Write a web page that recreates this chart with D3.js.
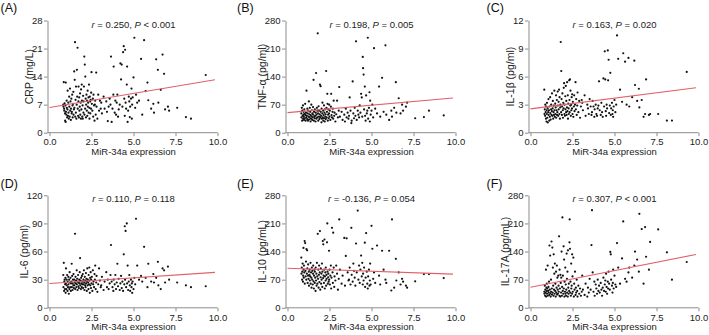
<!DOCTYPE html>
<html>
<head>
<meta charset="utf-8">
<script src="https://cdn.jsdelivr.net/npm/d3@7"></script>
<style>
  body { margin: 0; background: #fff; }
  svg { display: block; font-family: "Liberation Sans", Arial, sans-serif; }
</style>
</head>
<body>
<svg id="chart" width="709" height="335"></svg>
<script>
// MiR-34a expression (shared x for all six panels)
const mir34a = [
  0.82, 0.83, 0.85, 0.87, 0.88, 0.90, 0.92, 0.93, 0.95, 0.96,
  0.97, 0.98, 1.00, 1.02, 1.03, 1.05, 1.07, 1.08, 1.10, 1.12,
  1.13, 1.15, 1.17, 1.18, 1.20, 1.22, 1.23, 1.25, 1.27, 1.28,
  1.30, 1.32, 1.33, 1.35, 1.37, 1.38, 1.40, 1.42, 1.43, 1.45,
  1.47, 1.48, 1.50, 1.52, 1.53, 1.55, 1.57, 1.58, 1.60, 1.62,
  1.63, 1.65, 1.67, 1.68, 1.70, 1.72, 1.73, 1.75, 1.77, 1.78,
  1.80, 1.82, 1.83, 1.85, 1.87, 1.88, 1.90, 1.92, 1.93, 1.95,
  1.97, 1.98, 2.00, 2.02, 2.03, 2.05, 2.07, 2.08, 2.10, 2.12,
  2.13, 2.15, 2.17, 2.18, 2.20, 2.22, 2.23, 2.25, 2.27, 2.28,
  2.30, 2.32, 2.33, 2.35, 2.37, 2.38, 2.40, 2.42, 2.43, 2.45,
  2.47, 2.48, 2.50, 2.52, 2.55, 2.58, 2.60, 2.62, 2.65, 2.68,
  2.70, 2.72, 2.75, 2.78, 2.80, 2.85, 2.90, 2.95, 3.00, 3.05,
  3.08, 3.12, 3.22, 3.28, 3.38, 3.42, 3.47, 3.52, 3.58, 3.63,
  3.66, 3.70, 3.75, 3.80, 3.82, 3.88, 3.92, 3.96, 4.00, 4.04,
  4.08, 4.12, 4.18, 4.22, 4.26, 4.30, 4.34, 4.38, 4.42, 4.45,
  4.48, 4.50, 4.53, 4.56, 4.60, 4.62, 4.65, 4.68, 4.72, 4.75,
  4.78, 4.80, 4.85, 4.88, 4.90, 4.92, 4.95, 5.00, 5.05, 5.10,
  5.15, 5.22, 5.33, 5.45, 5.52, 5.63, 5.72, 5.83, 5.88, 6.05,
  6.18, 6.22, 6.35, 6.45, 6.48, 6.62, 6.73, 6.82, 6.88, 7.05,
  7.12, 7.60, 8.12, 8.42, 9.30
];

const crp = [
  7.0, 6.5, 12.6, 6.0, 5.5, 7.3, 4.8, 3.0, 6.8, 2.7,
  12.5, 5.2, 4.5, 8.0, 6.2, 3.8, 5.8, 10.5, 4.2, 7.5,
  5.0, 3.5, 9.0, 6.5, 4.0, 11.0, 5.5, 7.8, 3.2, 6.0,
  8.5, 4.8, 5.2, 9.5, 6.8, 3.8, 7.2, 10.2, 4.5, 5.8,
  15.3, 6.2, 13.2, 22.6, 4.0, 8.2, 5.0, 11.5, 3.5, 7.0,
  15.7, 9.0, 21.2, 6.0, 4.2, 7.8, 11.5, 3.8, 8.8, 5.5,
  6.5, 9.8, 4.5, 7.5, 3.5, 10.8, 5.8, 12.0, 8.0, 4.0,
  6.8, 3.5, 9.2, 5.0, 7.8, 11.5, 19.0, 4.5, 17.0, 6.0,
  14.0, 8.5, 3.8, 7.0, 9.5, 5.5, 8.0, 4.2, 10.5, 6.5,
  7.5, 8.8, 5.0, 12.0, 6.2, 3.5, 9.0, 7.8, 4.8, 8.2,
  6.0, 10.0, 15.1, 7.2, 5.5, 8.5, 4.0, 9.5, 6.8, 3.0,
  7.0, 8.0, 4.5, 15.0, 6.5, 3.5, 9.5, 5.5, 8.0, 6.0,
  7.5, 4.8, 9.0, 6.0, 7.8, 5.2, 2.9, 6.5, 8.5, 7.0,
  19.0, 2.7, 6.0, 9.5, 16.5, 5.0, 8.0, 4.5, 7.5, 9.5,
  4.0, 5.8, 7.0, 17.3, 13.3, 17.0, 6.5, 20.1, 21.6, 8.5,
  4.2, 20.7, 7.5, 6.0, 12.0, 16.5, 2.7, 5.5, 9.0, 7.8,
  3.9, 6.5, 8.5, 11.0, 3.5, 7.0, 8.8, 13.8, 23.7, 6.2,
  9.5, 7.5, 8.0, 18.4, 4.5, 23.1, 10.4, 12.5, 8.1, 6.0,
  7.2, 5.0, 18.3, 15.7, 7.5, 10.7, 19.5, 14.7, 5.8, 6.5,
  5.5, 6.2, 3.9, 3.5, 14.4
];

const tnfa = [
  48, 38, 62, 30, 55, 42, 68, 35, 45, 52,
  40, 32, 58, 47, 36, 72, 44, 30, 50, 38,
  105, 42, 34, 60, 48, 30, 55, 40, 78, 33,
  46, 38, 62, 52, 28, 44, 35, 70, 41, 56,
  32, 48, 38, 64, 45, 132, 30, 52, 40, 36,
  58, 42, 28, 50, 149, 35, 45, 62, 38, 55,
  248, 48, 30, 66, 40, 55, 34, 46, 120, 38,
  116, 52, 42, 26, 60, 35, 48, 75, 38, 55,
  30, 44, 68, 36, 50, 28, 58, 40, 46, 34,
  154, 62, 38, 52, 97, 72, 30, 45, 58, 36,
  48, 70, 40, 55, 32, 65, 97, 44, 38, 52,
  60, 35, 80, 42, 50, 28, 46, 80, 38, 55,
  114, 40, 52, 32, 45, 28, 60, 38, 50, 35,
  42, 88, 55, 24, 30, 128, 48, 36, 62, 42,
  228, 32, 55, 45, 38, 68, 50, 97, 88, 40,
  189, 161, 145, 58, 115, 42, 30, 93, 48, 55,
  237, 35, 62, 101, 28, 80, 45, 55, 70, 38,
  211, 60, 48, 115, 40, 137, 52, 218, 45, 32,
  55, 40, 62, 126, 50, 86, 48, 70, 55, 65,
  75, 36, 39, 55, 43
];

const il1b = [
  4.6, 2.0, 2.5, 1.8, 3.0, 2.2, 1.5, 2.8, 1.2, 2.4,
  2.0, 3.2, 1.6, 2.6, 1.1, 2.2, 3.6, 1.9, 2.4, 1.3,
  2.8, 1.7, 3.8, 2.1, 1.4, 2.5, 3.0, 1.9, 2.3, 4.2,
  1.8, 2.6, 3.4, 1.5, 2.2, 2.9, 1.9, 4.5, 2.4, 1.7,
  3.1, 2.0, 2.7, 4.0, 1.6, 2.4, 3.5, 1.9, 2.2, 4.4,
  2.9, 1.8, 3.3, 2.5, 4.6, 2.0, 3.8, 1.5, 2.7, 3.0,
  9.7, 2.2, 6.6, 3.6, 1.9, 2.8, 4.2, 2.4, 1.6, 3.2,
  2.6, 4.8, 5.3, 2.0, 3.0, 1.8, 3.9, 2.5, 5.0, 2.2,
  3.4, 1.9, 2.7, 5.4, 2.3, 4.0, 1.5, 3.1, 2.6, 2.0,
  5.6, 3.5, 2.2, 5.7, 2.9, 4.5, 1.8, 3.0, 2.4, 3.8,
  2.6, 4.1, 2.0, 3.3, 1.7, 2.8, 4.0, 2.3, 3.0, 5.4,
  2.5, 3.6, 1.9, 2.9, 4.3, 2.2, 3.4, 1.6, 2.8, 3.5,
  3.2, 2.4, 4.0, 1.8, 3.0, 2.6, 2.0, 3.6, 2.8, 1.9,
  2.2, 3.4, 2.8, 1.7, 2.5, 3.0, 2.0, 1.8, 2.6, 2.9,
  5.5, 2.4, 1.9, 3.2, 2.2, 1.7, 5.8, 2.8, 8.7, 5.7,
  2.3, 1.8, 3.0, 2.6, 8.8, 5.6, 7.8, 2.1, 2.9, 6.4,
  1.9, 2.6, 3.2, 2.0, 2.4, 1.7, 2.8, 3.5, 2.2, 3.0,
  10.4, 7.9, 4.6, 3.3, 8.5, 7.6, 3.0, 8.0, 2.8, 3.8,
  7.7, 5.1, 3.4, 4.7, 2.7, 3.5, 1.7, 2.0, 5.7, 1.9,
  2.0, 2.0, 1.3, 1.3, 6.5
];

const il6 = [
  35, 22, 48, 18, 28, 30, 20, 25, 32, 16,
  26, 42, 20, 30, 24, 35, 18, 28, 22, 33,
  25, 15, 30, 20, 38, 27, 22, 32, 18, 26,
  28, 47, 22, 34, 19, 26, 30, 24, 36, 21,
  30, 24, 27, 79, 20, 33, 26, 29, 22, 40,
  25, 31, 19, 28, 35, 23, 27, 21, 30, 26,
  38, 53, 24, 29, 20, 32, 26, 22, 34, 25,
  28, 36, 21, 30, 25, 40, 27, 19, 33, 24,
  29, 22, 37, 26, 31, 18, 28, 42, 24, 30,
  27, 20, 35, 25, 43, 29, 16, 32, 24, 38,
  21, 30, 26, 33, 18, 40, 25, 28, 22, 36,
  30, 45, 20, 27, 34, 17, 25, 42, 29, 22,
  24, 33, 19, 28, 38, 22, 30, 20, 26, 35,
  67, 28, 22, 18, 30, 25, 35, 20, 27, 47,
  23, 31, 19, 26, 34, 21, 28, 18, 57, 25,
  87, 30, 82, 22, 90, 26, 45, 19, 28, 35,
  24, 18, 30, 22, 26, 16, 28, 20, 32, 25,
  95, 45, 30, 34, 28, 65, 32, 22, 47, 28,
  36, 27, 32, 49, 24, 20, 42, 40, 27, 44,
  30, 27, 24, 22, 23
];

const il10 = [
  125, 85, 100, 70, 90, 110, 65, 80, 149, 95,
  75, 105, 88, 166, 60, 161, 92, 78, 115, 70,
  146, 85, 143, 98, 62, 80, 108, 72, 90, 55,
  82, 95, 68, 78, 112, 60, 88, 75, 50, 100,
  70, 92, 58, 85, 105, 66, 48, 80, 95, 62,
  90, 75, 42, 100, 68, 85, 55, 112, 78, 60,
  184, 72, 95, 50, 82, 105, 64, 88, 191, 45,
  76, 98, 60, 85, 70, 110, 52, 90, 166, 74,
  158, 80, 62, 95, 170, 48, 78, 88, 68, 100,
  55, 82, 72, 163, 210, 90, 60, 76, 85, 65,
  142, 70, 95, 58, 80, 105, 48, 75, 199, 88,
  62, 187, 100, 52, 78, 68, 105, 85, 45, 72,
  220, 95, 60, 80, 174, 55, 129, 173, 88, 68,
  70, 100, 58, 199, 82, 65, 110, 92, 75, 55,
  160, 88, 242, 70, 105, 62, 95, 130, 78, 112,
  58, 85, 68, 100, 162, 52, 75, 186, 90, 60,
  48, 78, 95, 55, 68, 110, 58, 204, 147, 72,
  88, 62, 155, 80, 58, 142, 95, 70, 62, 142,
  43, 220, 50, 122, 68, 88, 58, 72, 65, 55,
  50, 66, 84, 84, 74
];

const il17a = [
  40, 35, 55, 30, 45, 38, 95, 28, 50, 42,
  60, 35, 48, 105, 30, 42, 52, 38, 65, 32,
  155, 45, 130, 36, 28, 70, 40, 165, 48, 33,
  150, 38, 100, 55, 30, 133, 45, 85, 35, 110,
  42, 60, 28, 90, 38, 50, 105, 33, 75, 45,
  35, 80, 55, 40, 178, 30, 95, 48, 28, 82,
  62, 38, 75, 140, 30, 52, 225, 42, 80, 35,
  153, 48, 120, 28, 65, 40, 100, 35, 58, 30,
  45, 135, 72, 38, 90, 28, 143, 50, 35, 60,
  42, 163, 220, 147, 38, 65, 30, 110, 48, 55,
  35, 133, 78, 40, 125, 28, 60, 45, 90, 32,
  50, 38, 70, 42, 28, 55, 35, 48, 30, 40,
  80, 45, 32, 60, 28, 50, 38, 72, 45, 156,
  243, 88, 40, 65, 30, 58, 48, 35, 70, 42,
  55, 38, 62, 45, 30, 50, 75, 42, 58, 68,
  40, 85, 52, 35, 65, 48, 90, 60, 45, 139,
  133, 70, 55, 38, 62, 95, 48, 80, 58, 52,
  161, 100, 60, 123, 215, 72, 65, 88, 100, 75,
  105, 140, 120, 90, 234, 196, 60, 201, 127, 95,
  164, 195, 138, 70, 114
];

// panel labels, axis titles, tick values, stats and fitted lines
const panelLetters = ["(A)", "(B)", "(C)", "(D)", "(E)", "(F)"];
const yTitles = ["CRP (mg/L)", "TNF-\u03b1 (pg/ml)", "IL-1\u03b2 (pg/ml)",
                 "IL-6 (pg/ml)", "IL-10 (pg/mL)", "IL-17A (pg/mL)"];
const yTickSets = [
  [0, 7, 14, 21, 28],
  [0, 70, 140, 210, 280],
  [0, 3, 6, 9, 12],
  [0, 30, 60, 90, 120],
  [0, 70, 140, 210, 280],
  [0, 70, 140, 210, 280]
];
const xTicks = [0, 2.5, 5, 7.5, 10];
const rValues = ["0.250", "0.198", "0.163", "0.110", "-0.136", "0.307"];
const pValues = ["< 0.001", "= 0.005", "= 0.020", "= 0.118", "= 0.054", "< 0.001"];
const fitIntercepts = [6.3, 50, 2.55, 26, 98.5, 51];
const fitSlopes = [0.70, 3.7, 0.23, 1.2, -1.5, 8.3];
const seriesY = [crp, tnfa, il1b, il6, il10, il17a];

// layout
const colAxisX = [47.5, 285.5, 528.5];
const colLabelX = [0.5, 237, 486.5];
const rowTop = [20.5, 195.3];
const rowBottom = [132.7, 307.8];
const rowLabelY = [11.5, 188];
const plotW = 168;
const axisColor = "#8c8c8c";
const textColor = "#222";

const svg = d3.select("#chart");

panelLetters.forEach((letter, i) => {
  const col = i % 3, row = Math.floor(i / 3);
  const ax = colAxisX[col];
  const ticks = yTickSets[i];

  const x = d3.scaleLinear().domain([0, 10]).range([ax + 2, ax + 2 + plotW]);
  const y = d3.scaleLinear().domain([0, ticks[ticks.length - 1]]).range([rowBottom[row], rowTop[row]]);

  const g = svg.append("g");

  // panel letter
  g.append("text")
    .attr("x", colLabelX[col])
    .attr("y", rowLabelY[row])
    .attr("font-size", 12.5)
    .attr("fill", "#111")
    .text(letter);

  // x axis
  const xAxis = g.append("g")
    .attr("transform", `translate(0, ${rowBottom[row]})`)
    .call(d3.axisBottom(x).tickValues(xTicks).tickFormat(d3.format(".1f"))
      .tickSize(3.5).tickPadding(2.5));
  xAxis.select(".domain").remove();
  xAxis.append("line")
    .attr("x1", ax).attr("x2", x(10))
    .attr("stroke", axisColor);

  // y axis
  const yAxis = g.append("g")
    .attr("transform", `translate(${ax}, 0)`)
    .call(d3.axisLeft(y).tickValues(ticks).tickSize(3.5).tickSizeOuter(0).tickPadding(1.5));

  [xAxis, yAxis].forEach(a => {
    a.selectAll(".domain, line").attr("stroke", axisColor);
    a.selectAll("text")
      .attr("font-size", 9.5)
      .attr("font-family", "Liberation Sans, Arial, sans-serif")
      .attr("fill", textColor);
  });

  // axis titles
  g.append("text")
    .attr("x", (x(0) + x(10)) / 2)
    .attr("y", rowBottom[row] + 22.5)
    .attr("text-anchor", "middle")
    .attr("font-size", 9.5)
    .attr("fill", textColor)
    .text("MiR-34a expression");

  const labelW = d3.max(yAxis.selectAll("text").nodes(), n => n.getBBox().width);
  const yMid = (rowTop[row] + rowBottom[row]) / 2;
  g.append("text")
    .attr("transform", `translate(${ax - labelW - 4}, ${yMid}) rotate(-90)`)
    .attr("text-anchor", "middle")
    .attr("font-size", 10.5)
    .attr("fill", textColor)
    .text(yTitles[i]);

  // r / P annotation
  const ann = g.append("text")
    .attr("x", (x(0) + x(10)) / 2)
    .attr("y", rowTop[row] + 7)
    .attr("text-anchor", "middle")
    .attr("font-size", 9.5)
    .attr("fill", textColor);
  ann.append("tspan").attr("font-style", "italic").text("r");
  ann.append("tspan").text(` = ${rValues[i]}, `);
  ann.append("tspan").attr("font-style", "italic").text("P");
  ann.append("tspan").text(` ${pValues[i]}`);

  // scatter points
  const pts = d3.zip(mir34a, seriesY[i]);
  g.append("g").selectAll("circle")
    .data(pts)
    .enter()
    .append("circle")
    .attr("cx", d => x(d[0]))
    .attr("cy", d => y(d[1]))
    .attr("r", 1.1)
    .attr("fill", "#111");

  // regression line
  const fit = v => fitIntercepts[i] + fitSlopes[i] * v;
  g.append("line")
    .attr("x1", x(0)).attr("y1", y(fit(0)))
    .attr("x2", x(9.85)).attr("y2", y(fit(9.85)))
    .attr("stroke", "#e0606a")
    .attr("stroke-width", 1.1);
});
</script>
</body>
</html>
